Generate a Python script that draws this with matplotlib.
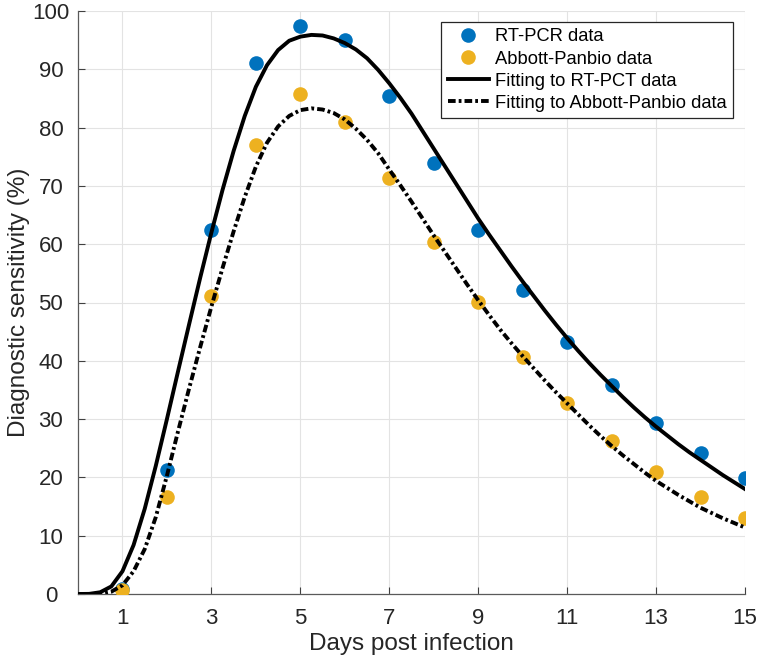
import matplotlib
matplotlib.use("Agg")
import matplotlib.pyplot as plt
import numpy as np

plt.rcParams['font.family'] = ['Liberation Sans', 'DejaVu Sans']
plt.rcParams['lines.scale_dashes'] = False

# ---- data ----
days = [1, 2, 3, 4, 5, 6, 7, 8, 9, 10, 11, 12, 13, 14, 15]
rtpcr = [0.8, 21.3, 62.4, 91.0, 97.4, 95.0, 85.4, 73.9, 62.4, 52.1, 43.2, 35.8, 29.3, 24.2, 19.9]
panbio = [0.7, 16.6, 51.1, 77.0, 85.8, 81.0, 71.3, 60.4, 50.1, 40.7, 32.8, 26.2, 20.9, 16.6, 13.0]

# fitted curves, every 0.25 day (0 .. 15)
fit_x = [i * 0.25 for i in range(61)]
fit_rtpcr = [0.0, 0.02, 0.3, 1.3, 3.9, 8.4, 14.6, 22.0, 30.0, 38.2, 46.3, 54.3,
             62.0, 69.3, 76.0, 82.0, 87.0, 90.7, 93.3, 94.9, 95.6, 95.9, 95.8, 95.3,
             94.5, 93.4, 91.9, 89.9, 87.6, 85.1, 82.4, 79.4, 76.4, 73.4, 70.4, 67.4,
             64.4, 61.6, 58.9, 56.2, 53.6, 51.1, 48.6, 46.2, 43.9, 41.7, 39.6, 37.6,
             35.7, 33.8, 32.0, 30.3, 28.7, 27.2, 25.7, 24.3, 23.0, 21.7, 20.4, 19.2, 18.0]
fit_panbio = [0.0, 0.0, 0.05, 0.4, 1.5, 3.9, 7.7, 13.2, 20.3, 27.9, 35.3, 42.4,
              49.3, 55.9, 62.2, 68.1, 73.3, 77.4, 80.2, 82.0, 83.0, 83.3, 83.1, 82.5,
              81.4, 79.8, 77.9, 75.6, 72.8, 70.1, 67.3, 64.4, 61.5, 58.7, 55.9, 53.1,
              50.4, 47.8, 45.3, 43.0, 40.8, 38.7, 36.6, 34.6, 32.7, 30.8, 28.9, 27.1,
              25.4, 23.8, 22.3, 20.8, 19.4, 18.2, 17.0, 15.9, 14.8, 13.9, 13.0, 12.2, 11.4]

xticks = [1, 3, 5, 7, 9, 11, 13, 15]
yticks = list(range(0, 101, 10))

labels = ["RT-PCR data", "Abbott-Panbio data", "Fitting to RT-PCT data",
          "Fitting to Abbott-Panbio data"]

BLUE = '#0072BD'
ORANGE = '#EDB120'
TXT = '#262626'

fig = plt.figure(figsize=(7.57, 6.64), dpi=100)
ax = fig.add_axes([78 / 757, 1 - 594 / 664, (745 - 78) / 757, (594 - 11) / 664])

h1, = ax.plot(days, rtpcr, 'o', color=BLUE, markersize=10.5, markeredgewidth=0,
              linestyle='none', zorder=4)
h2, = ax.plot(days, panbio, 'o', color=ORANGE, markersize=10.5, markeredgewidth=0,
              linestyle='none', zorder=4)
h3, = ax.plot(fit_x, fit_rtpcr, color='black', lw=2.8, zorder=5)
h4, = ax.plot(fit_x, fit_panbio, color='black', lw=2.8, zorder=5,
              dashes=[5.5, 2.2, 2.0, 2.2])

ax.set_xlim(0, 15)
ax.set_ylim(0, 100)
ax.set_xticks(xticks)
ax.set_yticks(yticks)
ax.grid(True, color='#e3e3e3', lw=0.8, zorder=0)
ax.set_axisbelow(True)

for s in ['top', 'right']:
    ax.spines[s].set_visible(False)
for s in ['left', 'bottom']:
    ax.spines[s].set_color('#5a5a5a')
    ax.spines[s].set_linewidth(0.9)

ax.tick_params(direction='in', length=5, width=0.8, color='#404040',
               labelsize=16, labelcolor=TXT)
ax.tick_params(axis='y', pad=19.5)
ax.tick_params(axis='x', pad=10)
for t in ax.get_yticklabels():
    t.set_horizontalalignment('center')

ax.set_xlabel("Days post infection", fontsize=17.5, color=TXT, labelpad=3)
ax.set_ylabel("Diagnostic sensitivity (%)", fontsize=17.5, color=TXT, labelpad=2)

leg = ax.legend([h1, h2, h3, h4], labels, loc='upper right',
                bbox_to_anchor=(733 / 757, 1 - 22 / 664), bbox_transform=fig.transFigure,
                borderaxespad=0, fontsize=13.2, frameon=True, fancybox=False,
                framealpha=1, edgecolor='#262626', handlelength=2.25,
                handletextpad=0.33, labelspacing=0.28, borderpad=0.35, markerscale=1.0)
leg.get_frame().set_linewidth(0.9)
for t in leg.get_texts():
    t.set_color('black')

fig.savefig('out.png', dpi=100)
